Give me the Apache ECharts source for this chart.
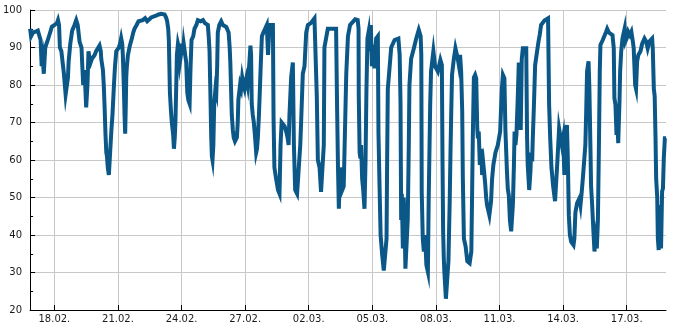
<!DOCTYPE html>
<html><head><meta charset="utf-8">
<script src="https://cdn.jsdelivr.net/npm/echarts@6/dist/echarts.min.js"></script>
<style>html,body{margin:0;padding:0;background:#fff}#c{width:685px;height:330px}</style>
</head><body><div id="c"></div>
<script>
// readings: [days since 18.02. 00:00, value]
const readingsA = [
[-1.146,95],[-1.10,93],[-1.01,94],[-0.90,94.2],[-0.78,94.5],[-0.70,94],[-0.65,92],[-0.60,85],[-0.55,87],[-0.50,83],
[-0.45,88],[-0.43,90],[-0.31,92],[-0.20,94],[-0.12,95.5],[0.01,96],[0.12,96.5],[0.17,97.3],[0.22,96],[0.26,90],
[0.33,89],[0.39,86],[0.45,83],[0.53,77.5],[0.60,78],[0.64,82],[0.67,86],[0.75,91],[0.84,94.5],[0.95,96],
[1.03,97.3],[1.10,96],[1.19,91.5],[1.28,90],[1.31,86],[1.36,80],[1.42,84],[1.47,78],[1.50,74],[1.56,80],
[1.61,89],[1.66,87],[1.71,86],[1.77,87],[1.82,87.5],[1.90,88],[1.97,89],[2.05,88.5],[2.13,90.5],[2.19,89],
[2.21,87],[2.29,84],[2.33,80],[2.37,74],[2.41,67],[2.45,62],[2.48,61],[2.52,58],[2.57,56],[2.62,61],
[2.69,68],[2.74,72],[2.81,80],[2.86,85],[2.92,89],[3.04,90],[3.10,91],[3.15,92.5],[3.20,91],[3.23,88],
[3.28,79],[3.31,72],[3.34,67],[3.37,75],[3.39,82],[3.42,85],[3.47,88],[3.56,90.5],[3.66,92.5],[3.72,94],
[3.78,95],[3.88,96],[3.97,97],[4.05,97.5],[4.17,97.3],[4.28,97.8],[4.38,97],[4.47,97.5],[4.57,98],[4.70,98.3],
[4.80,98.5],[4.92,98.8],[5.04,99],[5.12,99],[5.20,98.8],[5.27,98],[5.32,97],[5.37,95],[5.40,92],[5.45,78],
[5.50,73],[5.54,70],[5.60,67],[5.64,63],[5.68,66],[5.71,70],[5.75,80],[5.78,88],[5.83,91],[5.87,90],
[5.92,86],[5.97,88],[6.02,91],[6.06,88],[6.10,91],[6.17,91],[6.22,86],[6.27,78],[6.32,76],[6.38,75],
[6.42,84],[6.47,92],[6.55,93],[6.61,95],[6.70,96],[6.77,97.3]
];
const readingsB = [
[6.90,97],[7.01,97.3],[7.10,96.5],[7.16,97],[7.24,96],[7.28,93],[7.32,89],[7.37,75],[7.40,66],[7.43,61],
[7.46,60],[7.50,64],[7.54,75],[7.60,79],[7.64,78],[7.68,85],[7.71,94],[7.78,96],[7.87,97],[7.95,96],
[8.02,95.5],[8.11,95.5],[8.22,94],[8.27,90],[8.30,86],[8.34,78],[8.37,72],[8.42,68],[8.46,66],[8.52,65],
[8.61,66],[8.65,70],[8.68,76],[8.76,80],[8.81,79],[8.86,82],[8.92,80],[8.97,79],[9.02,81],[9.06,82],
[9.12,80],[9.16,80],[9.20,86],[9.25,90.5],[9.28,88],[9.31,75],[9.36,72],[9.41,70],[9.47,66],[9.52,62],
[9.56,63],[9.60,66],[9.65,72],[9.69,78],[9.74,86],[9.79,93],[9.86,94],[9.94,95],[10.02,96],[10.08,88],
[10.15,96],[10.22,96.3],[10.31,96],[10.34,71],[10.38,58],[10.46,55],[10.55,52],[10.62,51],[10.67,64],[10.72,70],
[10.78,70],[10.86,69],[10.94,67.5],[11.00,66],[11.05,64],[11.09,72],[11.17,82],[11.25,86],[11.30,64],[11.36,52],
[11.45,51],[11.53,58],[11.60,64],[11.64,70],[11.72,83],[11.80,85],[11.88,94],[11.96,96],[12.10,96.5],[12.27,97.8],
[12.35,97.5],[12.38,77],[12.43,60],[12.51,58],[12.58,51.5],[12.66,52],[12.71,64],[12.74,90],[12.82,92.5],[12.90,95],
[13.10,95],[13.29,95],[13.34,73],[13.38,58],[13.42,47],[13.48,58],[13.58,52],[13.65,53],[13.69,63],[13.77,83],
[13.85,93],[13.95,96],[14.03,96.5]
];
const readingsC = [
[14.19,97.5],[14.31,97.3],[14.35,95],[14.36,77],[14.40,62],[14.44,60.4],[14.47,64],[14.52,55],[14.57,52],[14.63,47],
[14.68,60],[14.72,78],[14.77,92.4],[14.82,94],[14.86,89],[14.93,96],[14.98,85],[15.05,90.7],[15.10,84.4],[15.18,92.4],
[15.26,93],[15.29,67],[15.34,53],[15.39,40],[15.46,35],[15.54,30.5],[15.62,30.5],[15.67,39],[15.70,61],[15.73,79],
[15.81,84.4],[15.89,90],[16.05,92],[16.23,92.4],[16.29,88],[16.33,75],[16.36,44],[16.39,51],[16.44,36.4],[16.48,50],
[16.52,44],[16.56,31],[16.63,30.5],[16.67,44],[16.72,64],[16.75,80],[16.83,87],[16.96,89.8],[17.07,92.4],[17.19,94.7],
[17.28,93],[17.31,88],[17.33,51.5],[17.38,39],[17.43,35.6],[17.49,40],[17.55,32],[17.62,30.2],[17.66,50],[17.73,75],
[17.77,83.6],[17.88,89],[17.96,85],[18.09,83.6],[18.21,86.7],[18.28,85.3],[18.31,60.4],[18.34,41],[18.37,34],[18.40,30],
[18.47,23],[18.56,22.5],[18.59,33],[18.62,41],[18.65,49],[18.69,63],[18.72,72],[18.76,82.7],[18.84,86.7],[18.92,89.8],
[18.99,90.2],[19.03,87],[19.08,85.3],[19.14,88],[19.19,83.6],[19.24,73],[19.27,55],[19.32,39],[19.40,37],[19.48,33],
[19.59,32.5],[19.67,35.6],[19.70,48],[19.74,66],[19.79,82],[19.85,82.7],[19.90,81.8],[19.95,68.4],[19.98,65.8],[20.02,67.6],
[20.07,58.7],[20.13,63],[20.18,56],[20.24,58.7],[20.32,54],[20.37,50],[20.41,48],[20.52,45.3],[20.60,49],[20.65,55],
[20.71,58.7],[20.81,62],[20.92,64],[21.03,67.6],[21.11,79],[21.16,82.7],[21.23,81.8],[21.28,67.6],[21.35,57],[21.39,52.4]
];
const readingsD = [
[21.44,50.5],[21.49,44],[21.55,41],[21.63,48],[21.68,58.7],[21.71,67.6],[21.75,64],[21.80,67],[21.86,76.5],[21.91,86],
[21.97,84],[22.00,68],[22.05,87],[22.10,89.8],[22.26,89.8],[22.30,66],[22.33,58.7],[22.40,52],[22.46,57],[22.49,62],
[22.54,59.6],[22.57,65.8],[22.62,74],[22.68,85.3],[22.76,88.5],[22.84,91.6],[22.90,93.5],[22.96,96],[23.12,97.2],[23.29,97.8],
[23.34,74.7],[23.39,66],[23.45,58],[23.53,53],[23.62,49],[23.67,49],[23.72,58.7],[23.77,64],[23.81,68.4],[23.88,68.4],
[23.94,64],[24.00,66],[24.06,56],[24.11,66.7],[24.18,69.3],[24.22,61],[24.27,45.3],[24.32,40],[24.38,38.2],[24.49,37.3],
[24.53,39],[24.58,46],[24.66,48.5],[24.77,49.8],[24.82,48],[24.88,51.6],[24.93,55],[25.01,61],[25.05,64],[25.09,73],
[25.13,83.6],[25.20,86.3],[25.24,79],[25.29,63],[25.32,53],[25.37,48],[25.43,41],[25.48,35.6],[25.53,39],[25.59,36.4],
[25.64,43.6],[25.69,64],[25.73,83.6],[25.76,90.7],[25.87,92],[25.95,92.4],[26.03,94.2],[26.08,95],[26.16,94],[26.23,94.5],
[26.33,93.3],[26.39,89.8],[26.42,76.5],[26.47,74.7],[26.52,66.7],[26.55,72],[26.60,64.5],[26.66,75.6],[26.69,83.6],[26.74,88.9],
[26.80,92.4],[26.90,95],[26.94,91.6],[27.00,92.4],[27.07,94.2],[27.15,93.3],[27.22,94.2],[27.29,91.6],[27.33,89.8],[27.40,80],
[27.44,79],[27.49,86.2],[27.55,88],[27.65,89],[27.73,91],[27.84,92.4],[27.92,91.6],[27.99,89.8],[28.07,91.6],[28.20,92.4],
[28.23,89.8],[28.28,79],[28.32,77],[28.36,65.8],[28.39,55],[28.44,50],[28.47,39],[28.51,36],[28.56,48],[28.62,36.4],
[28.67,51.6],[28.71,52.4],[28.75,60.4],[28.80,65.8],[28.854,65.8]
];
const tickDays = [0,3,6,9,12,15,18,21,24,27];
const yMin = 20, yMax = 100, yStep = 10;
const rangeStartDay = -1.146, rangeEndDay = 28.854;

const DAY = 86400000;
const base = new Date(2023, 1, 18, 0, 0, 0).getTime();
const toTime = d => base + d * DAY;
const seriesData = [].concat(readingsA, readingsB, readingsC, readingsD).map(p => [toTime(p[0]), p[1]]);
const tickTimes = tickDays.map(toTime);

const chart = echarts.init(document.getElementById('c'), null, {renderer: 'canvas'});
const txt = {color: '#1a1a1a', fontFamily: 'DejaVu Sans', fontSize: 10};
chart.setOption({
  animation: false,
  backgroundColor: '#ffffff',
  grid: {left: 30, right: 19, top: 10, bottom: 20, containLabel: false},
  xAxis: {
    type: 'time',
    min: toTime(rangeStartDay),
    max: toTime(rangeEndDay),
    axisLine: {show: true, lineStyle: {color: '#000', width: 1}},
    axisTick: {show: true, inside: true, length: 5, lineStyle: {color: '#000'}, customValues: tickTimes},
    axisLabel: Object.assign({}, txt, {margin: 4, customValues: tickTimes, formatter: '{dd}.{MM}.', hideOverlap: false}),
    splitLine: {show: true, lineStyle: {color: '#c8c8c8', width: 1}},
    minorTick: {show: false}
  },
  yAxis: {
    type: 'value',
    min: yMin, max: yMax, interval: yStep,
    axisLine: {show: true, lineStyle: {color: '#000', width: 1}},
    axisTick: {show: true, inside: true, length: 5, lineStyle: {color: '#000'}},
    minorTick: {show: true, splitNumber: 2, length: 3, lineStyle: {color: '#000'}},
    axisLabel: Object.assign({}, txt, {margin: 8}),
    splitLine: {show: true, lineStyle: {color: '#c8c8c8', width: 1}}
  },
  series: [{
    type: 'line',
    data: seriesData,
    showSymbol: false,
    symbol: 'none',
    sampling: 'none',
    lineStyle: {color: '#0b5888', width: 4, join: 'miter'},
    z: 3
  }]
});
</script></body></html>
